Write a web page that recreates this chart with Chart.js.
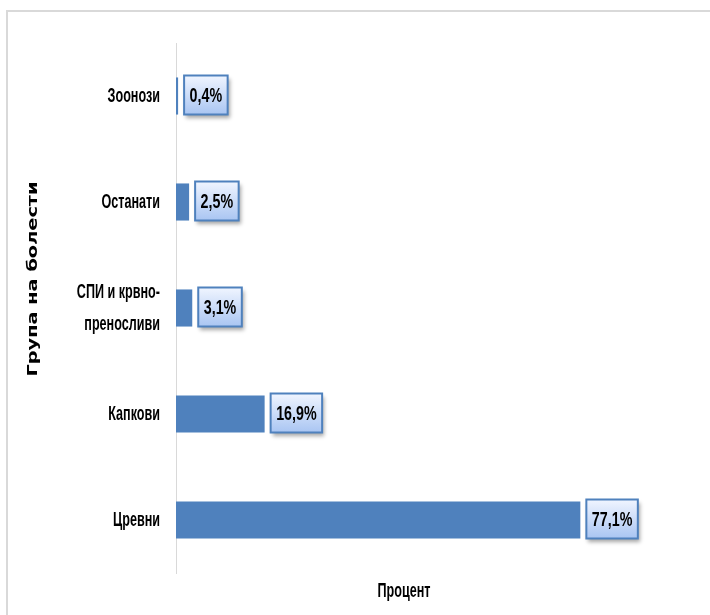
<!DOCTYPE html>
<html>
<head>
<meta charset="utf-8">
<script src="https://cdn.jsdelivr.net/npm/chart.js@4"></script>
<style>
body{margin:0;background:#fff}
#wrap{width:710px;height:615px;position:relative}
</style>
</head>
<body>
<div id="wrap"><canvas id="graph"></canvas></div>
<script>
const categories = ['Зоонози', 'Останати', ['СПИ и крвно-', 'преносливи'], 'Капкови', 'Цревни']
const percents = [0.4, 2.5, 3.1, 16.9, 77.1]
const valueLabels = ['0,4%', '2,5%', '3,1%', '16,9%', '77,1%']
const yTitle = 'Група на болести'
const xTitle = 'Процент'

const sans = '"Liberation Sans", Arial, sans-serif'
// the original text is tall and narrow, so squeeze it horizontally
const squeeze = 0.6
const squeezeValues = 0.68

// grey outer frame (the chart is cropped on the right/bottom)
const frame = {
    id: 'frame',
    beforeDraw(chart){
        const ctx = chart.ctx
        ctx.save()
        ctx.strokeStyle = '#d9d9d9'
        ctx.lineWidth = 2
        ctx.beginPath()
        ctx.moveTo(7, 615)
        ctx.lineTo(7, 11)
        ctx.lineTo(710, 11)
        ctx.stroke()
        ctx.restore()

        // y tick labels: let the scale draw them, squeezed round their right edge
        const y = chart.scales.y
        if (!y._squeezed) {
            const orig = y.drawLabels
            y.drawLabels = function(area){
                const c = this.ctx
                const right = this.right - this.options.ticks.padding
                c.save()
                c.translate(right, 0)
                c.scale(squeeze, 1)
                c.translate(-right, 0)
                orig.call(this, area)
                c.restore()
            }
            y._squeezed = true
        }
    }
}

// boxed value labels next to each bar
const boxLabels = {
    id: 'boxLabels',
    afterDatasetsDraw(chart){
        const ctx = chart.ctx
        const meta = chart.getDatasetMeta(0)
        ctx.save()
        ctx.font = 'bold 21px ' + sans
        meta.data.forEach((bar, i) => {
            const text = valueLabels[i]
            const w = ctx.measureText(text).width * squeezeValues + 11
            const h = 39
            const x = bar.x + 6
            const y = bar.y - h / 2 - 1
            ctx.shadowColor = 'rgba(0,0,0,0.35)'
            ctx.shadowBlur = 4
            ctx.shadowOffsetX = 2
            ctx.shadowOffsetY = 3
            const g = ctx.createLinearGradient(0, y, 0, y + h)
            g.addColorStop(0, '#f0f5ff')
            g.addColorStop(1, '#a9c5f2')
            ctx.fillStyle = g
            ctx.fillRect(x, y, w, h)
            ctx.shadowColor = 'transparent'
            ctx.strokeStyle = '#4f81bd'
            ctx.lineWidth = 2
            ctx.strokeRect(x, y, w, h)
            ctx.save()
            ctx.fillStyle = '#000'
            ctx.textAlign = 'center'
            ctx.textBaseline = 'middle'
            ctx.translate(x + w / 2, bar.y)
            ctx.scale(squeezeValues, 1)
            ctx.fillText(text, 0, 0)
            ctx.restore()
        })
        ctx.restore()
    }
}

// axis titles, placed where the original has them
const axisTitles = {
    id: 'axisTitles',
    afterDraw(chart){
        const ctx = chart.ctx
        ctx.save()
        ctx.fillStyle = '#000'
        ctx.textAlign = 'center'
        ctx.textBaseline = 'middle'
        ctx.save()
        ctx.translate(404, 591)
        ctx.scale(squeeze, 1)
        ctx.font = 'bold 21px ' + sans
        ctx.fillText(xTitle, 0, 0)
        ctx.restore()
        ctx.translate(33, 279)
        ctx.rotate(-Math.PI / 2)
        ctx.scale(1.38, 1)
        ctx.font = 'bold 14px "DejaVu Sans", sans-serif'
        ctx.fillText(yTitle, 0, 0)
        ctx.restore()
    }
}

const ctx = document.getElementById('graph').getContext('2d')
new Chart(ctx, {
    type: 'bar',
    data: {
        labels: categories,
        datasets: [{
            data: percents,
            backgroundColor: '#4f81bd',
            barPercentage: 0.35,
            categoryPercentage: 1
        }]
    },
    options: {
        indexAxis: 'y',
        responsive: true,
        maintainAspectRatio: false,
        animation: false,
        layout: { padding: { top: 43, right: 62, left: 0, bottom: 0 } },
        plugins: { legend: { display: false }, tooltip: { enabled: false } },
        scales: {
            x: {
                min: 0,
                max: 90,
                ticks: { display: false },
                grid: { display: false },
                border: { display: false },
                afterFit(s){ s.height = 42 }
            },
            y: {
                ticks: {
                    color: '#000',
                    padding: 16,
                    font: { family: sans, size: 21, weight: 'bold', lineHeight: 1.52 }
                },
                grid: { display: false, drawTicks: false },
                border: { display: true, color: '#d9d9d9', width: 1 },
                afterFit(s){ s.width = 176 }
            }
        }
    },
    plugins: [frame, boxLabels, axisTitles]
})
</script>
</body>
</html>
